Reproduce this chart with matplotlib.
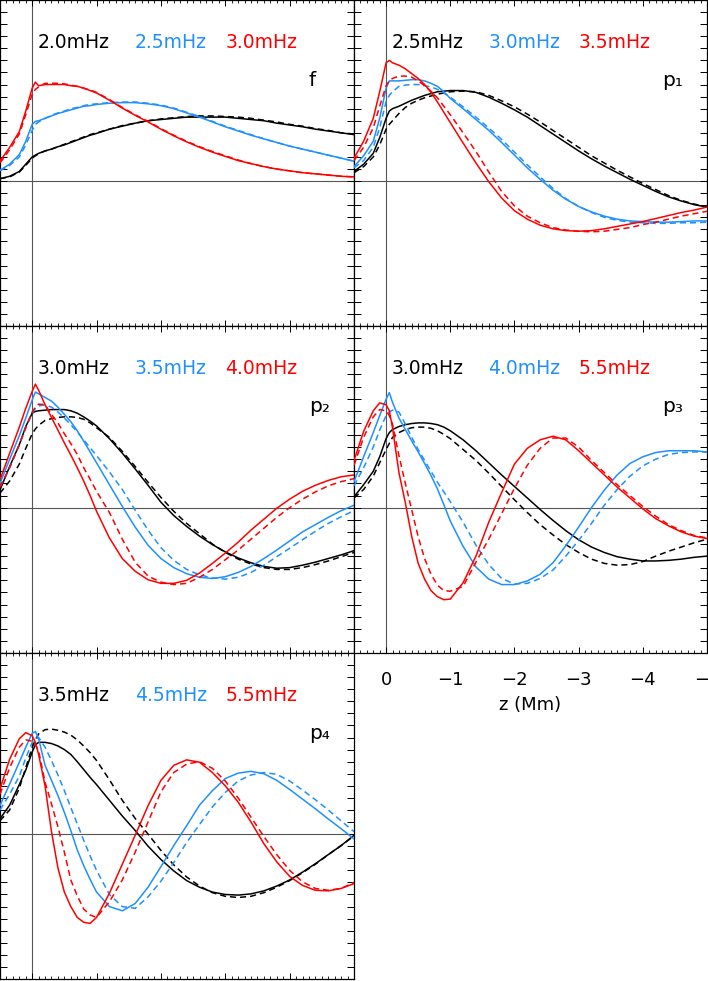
import matplotlib
matplotlib.use("Agg")
import matplotlib.pyplot as plt
from matplotlib.ticker import MultipleLocator

plt.rcParams['font.family'] = ['DejaVu Sans']

# depth grid (Mm), shared by all curves
z = [0.5, 0.35, 0.2, 0.1, 0.0, -0.05, -0.1, -0.2,
     -0.3, -0.4, -0.5, -0.6, -0.7, -0.8, -0.9, -1.0,
     -1.2, -1.4, -1.6, -1.8, -2.0, -2.2, -2.4, -2.6,
     -2.8, -3.0, -3.2, -3.4, -3.6, -3.8, -4.0, -4.2,
     -4.4, -4.6, -4.8, -5.0]

# ---- f mode  (k = black, b = blue, r = red; s = solid, d = dashed)
f_k_s = [0.02, 0.04, 0.08, 0.14, 0.20, 0.215, 0.23, 0.25,
         0.265, 0.285, 0.30, 0.32, 0.34, 0.36, 0.38, 0.395,
         0.43, 0.455, 0.48, 0.50, 0.51, 0.52, 0.53, 0.53,
         0.53, 0.53, 0.52, 0.51, 0.50, 0.48, 0.465, 0.45,
         0.43, 0.415, 0.40, 0.385]
f_k_d = [0.02, 0.035, 0.075, 0.13, 0.19, 0.21, 0.225, 0.25,
         0.265, 0.285, 0.305, 0.325, 0.345, 0.365, 0.385, 0.40,
         0.43, 0.46, 0.48, 0.50, 0.515, 0.525, 0.535, 0.54,
         0.54, 0.535, 0.53, 0.52, 0.505, 0.49, 0.47, 0.455,
         0.435, 0.42, 0.40, 0.39]
f_b_s = [0.09, 0.14, 0.22, 0.33, 0.47, 0.495, 0.50, 0.52,
         0.54, 0.56, 0.575, 0.59, 0.605, 0.62, 0.625, 0.635,
         0.645, 0.65, 0.65, 0.64, 0.625, 0.60, 0.565, 0.53,
         0.49, 0.45, 0.415, 0.38, 0.35, 0.32, 0.29, 0.265,
         0.24, 0.215, 0.19, 0.165]
f_b_d = [0.085, 0.13, 0.20, 0.30, 0.42, 0.47, 0.49, 0.52,
         0.545, 0.565, 0.58, 0.60, 0.61, 0.625, 0.635, 0.64,
         0.65, 0.655, 0.655, 0.645, 0.63, 0.605, 0.57, 0.535,
         0.495, 0.455, 0.42, 0.385, 0.35, 0.32, 0.29, 0.265,
         0.24, 0.215, 0.19, 0.165]
f_r_s = [0.165, 0.28, 0.41, 0.58, 0.77, 0.82, 0.79, 0.80,
         0.80, 0.80, 0.80, 0.79, 0.785, 0.77, 0.75, 0.73,
         0.67, 0.605, 0.545, 0.49, 0.43, 0.375, 0.325, 0.28,
         0.24, 0.205, 0.17, 0.145, 0.12, 0.10, 0.085, 0.07,
         0.06, 0.05, 0.04, 0.035]
f_r_d = [0.15, 0.26, 0.39, 0.55, 0.72, 0.76, 0.78, 0.81,
         0.81, 0.81, 0.805, 0.795, 0.785, 0.77, 0.755, 0.735,
         0.675, 0.61, 0.55, 0.495, 0.435, 0.38, 0.33, 0.285,
         0.245, 0.21, 0.175, 0.145, 0.12, 0.10, 0.085, 0.07,
         0.06, 0.05, 0.04, 0.035]

# ---- p1
p1_k_s = [0.08, 0.14, 0.23, 0.36, 0.52, 0.58, 0.60, 0.62,
          0.645, 0.67, 0.69, 0.71, 0.725, 0.74, 0.745, 0.75,
          0.75, 0.735, 0.695, 0.645, 0.59, 0.53, 0.46, 0.39,
          0.32, 0.25, 0.185, 0.125, 0.07, 0.015, -0.035, -0.085,
          -0.13, -0.165, -0.195, -0.215]
p1_k_d = [0.07, 0.12, 0.20, 0.30, 0.43, 0.47, 0.50, 0.56,
          0.61, 0.645, 0.67, 0.69, 0.705, 0.72, 0.73, 0.74,
          0.745, 0.74, 0.71, 0.665, 0.615, 0.555, 0.49, 0.42,
          0.35, 0.28, 0.21, 0.15, 0.09, 0.035, -0.02, -0.07,
          -0.12, -0.16, -0.19, -0.215]
p1_b_s = [0.12, 0.21, 0.33, 0.52, 0.77, 0.83, 0.83, 0.83,
          0.835, 0.84, 0.84, 0.83, 0.81, 0.785, 0.74, 0.685,
          0.60, 0.51, 0.42, 0.32, 0.215, 0.11, 0.015, -0.075,
          -0.15, -0.21, -0.255, -0.29, -0.315, -0.33, -0.335, -0.34,
          -0.34, -0.335, -0.33, -0.33]
p1_b_d = [0.11, 0.17, 0.28, 0.44, 0.66, 0.71, 0.74, 0.785,
          0.795, 0.80, 0.80, 0.79, 0.78, 0.76, 0.73, 0.695,
          0.615, 0.53, 0.44, 0.345, 0.24, 0.135, 0.035, -0.06,
          -0.145, -0.21, -0.26, -0.30, -0.325, -0.34, -0.345, -0.35,
          -0.35, -0.345, -0.345, -0.34]
p1_r_s = [0.19, 0.33, 0.52, 0.74, 0.98, 1.0, 0.98, 0.96,
          0.93, 0.89, 0.85, 0.80, 0.735, 0.655, 0.57, 0.485,
          0.315, 0.15, -0.005, -0.14, -0.245, -0.315, -0.365, -0.395,
          -0.41, -0.415, -0.41, -0.395, -0.375, -0.355, -0.335, -0.31,
          -0.285, -0.26, -0.24, -0.215]
p1_r_d = [0.17, 0.28, 0.44, 0.62, 0.79, 0.83, 0.85, 0.87,
          0.87, 0.86, 0.83, 0.79, 0.745, 0.69, 0.62, 0.55,
          0.40, 0.245, 0.075, -0.085, -0.205, -0.29, -0.345, -0.385,
          -0.405, -0.415, -0.42, -0.415, -0.40, -0.385, -0.36, -0.34,
          -0.315, -0.29, -0.27, -0.25]

# ---- p2
p2_k_s = [0.146, 0.34, 0.52, 0.67, 0.78, 0.795, 0.80, 0.805,
          0.81, 0.81, 0.81, 0.80, 0.78, 0.75, 0.715, 0.675,
          0.57, 0.45, 0.32, 0.185, 0.045, -0.065, -0.155, -0.235,
          -0.305, -0.365, -0.415, -0.455, -0.485, -0.50, -0.495, -0.475,
          -0.45, -0.42, -0.39, -0.355]
p2_k_d = [0.12, 0.22, 0.36, 0.49, 0.61, 0.65, 0.68, 0.72,
          0.735, 0.745, 0.75, 0.75, 0.745, 0.73, 0.70, 0.66,
          0.58, 0.465, 0.34, 0.21, 0.085, -0.03, -0.13, -0.215,
          -0.30, -0.37, -0.425, -0.465, -0.495, -0.51, -0.51, -0.495,
          -0.47, -0.44, -0.405, -0.37]
p2_b_s = [0.20, 0.40, 0.595, 0.74, 0.89, 0.955, 0.94, 0.91,
          0.88, 0.83, 0.77, 0.71, 0.635, 0.55, 0.46, 0.37,
          0.19, 0.01, -0.16, -0.31, -0.42, -0.495, -0.545, -0.575,
          -0.585, -0.57, -0.535, -0.485, -0.42, -0.35, -0.275, -0.20,
          -0.14, -0.08, -0.025, 0.02]
p2_b_d = [0.17, 0.33, 0.52, 0.66, 0.78, 0.82, 0.84, 0.85,
          0.83, 0.79, 0.74, 0.685, 0.625, 0.56, 0.495, 0.43,
          0.295, 0.15, -0.02, -0.185, -0.33, -0.435, -0.51, -0.555,
          -0.58, -0.59, -0.575, -0.535, -0.475, -0.405, -0.335, -0.265,
          -0.195, -0.13, -0.075, -0.025]
p2_r_s = [0.23, 0.45, 0.665, 0.82, 0.96, 1.02, 0.97, 0.85,
          0.745, 0.64, 0.535, 0.435, 0.33, 0.22, 0.10, -0.03,
          -0.25, -0.42, -0.525, -0.595, -0.625, -0.625, -0.60, -0.54,
          -0.46, -0.375, -0.285, -0.185, -0.095, -0.005, 0.07, 0.135,
          0.185, 0.225, 0.255, 0.27]
p2_r_d = [0.17, 0.33, 0.52, 0.66, 0.79, 0.83, 0.855, 0.85,
          0.77, 0.70, 0.61, 0.53, 0.44, 0.33, 0.235, 0.135,
          -0.04, -0.26, -0.45, -0.565, -0.615, -0.635, -0.625, -0.575,
          -0.51, -0.43, -0.35, -0.26, -0.17, -0.08, 0.0, 0.07,
          0.13, 0.18, 0.215, 0.24]

# ---- p3
p3_k_s = [0.09, 0.19, 0.30, 0.42, 0.57, 0.62, 0.645, 0.67,
          0.685, 0.695, 0.70, 0.70, 0.695, 0.685, 0.665, 0.635,
          0.56, 0.47, 0.37, 0.27, 0.175, 0.08, -0.015, -0.105,
          -0.19, -0.265, -0.325, -0.37, -0.405, -0.425, -0.44, -0.44,
          -0.435, -0.425, -0.41, -0.40]
p3_k_d = [0.08, 0.15, 0.26, 0.37, 0.48, 0.53, 0.58, 0.62,
          0.645, 0.66, 0.665, 0.665, 0.655, 0.635, 0.605, 0.57,
          0.48, 0.39, 0.285, 0.175, 0.065, -0.04, -0.14, -0.225,
          -0.305, -0.37, -0.425, -0.46, -0.475, -0.47, -0.445, -0.40,
          -0.36, -0.325, -0.29, -0.26]
p3_b_s = [0.215, 0.42, 0.62, 0.76, 0.895, 0.95, 0.87, 0.74,
          0.645, 0.55, 0.46, 0.365, 0.265, 0.155, 0.025, -0.11,
          -0.32, -0.49, -0.59, -0.635, -0.635, -0.605, -0.55, -0.455,
          -0.315, -0.16, 0.0, 0.145, 0.27, 0.365, 0.42, 0.455,
          0.47, 0.47, 0.47, 0.46]
p3_b_d = [0.18, 0.33, 0.50, 0.64, 0.76, 0.79, 0.805, 0.79,
          0.69, 0.58, 0.48, 0.39, 0.30, 0.21, 0.13, 0.05,
          -0.12, -0.31, -0.47, -0.585, -0.63, -0.625, -0.585, -0.515,
          -0.40, -0.27, -0.13, 0.02, 0.15, 0.26, 0.345, 0.40,
          0.44, 0.455, 0.46, 0.46]
p3_r_s = [0.39, 0.63, 0.80, 0.865, 0.85, 0.80, 0.66, 0.29,
          0.04, -0.24, -0.46, -0.59, -0.685, -0.735, -0.76, -0.755,
          -0.62, -0.40, -0.12, 0.125, 0.36, 0.49, 0.56, 0.59,
          0.56, 0.47, 0.37, 0.27, 0.17, 0.08, -0.01, -0.09,
          -0.15, -0.20, -0.235, -0.255]
p3_r_d = [0.35, 0.58, 0.75, 0.81, 0.80, 0.76, 0.69, 0.43,
          0.20, -0.02, -0.24, -0.42, -0.55, -0.64, -0.685, -0.69,
          -0.65, -0.45, -0.26, -0.05, 0.16, 0.35, 0.49, 0.575,
          0.575, 0.50, 0.39, 0.29, 0.19, 0.10, 0.01, -0.07,
          -0.14, -0.19, -0.23, -0.25]

# ---- p4
p4_k_s = [0.127, 0.24, 0.41, 0.53, 0.68, 0.74, 0.76, 0.76,
          0.75, 0.73, 0.70, 0.66, 0.60, 0.535, 0.47, 0.41,
          0.28, 0.15, 0.03, -0.10, -0.21, -0.305, -0.385, -0.44,
          -0.48, -0.50, -0.505, -0.495, -0.47, -0.43, -0.38, -0.315,
          -0.245, -0.17, -0.095, -0.01]
p4_k_d = [0.11, 0.20, 0.38, 0.55, 0.72, 0.78, 0.83, 0.865,
          0.87, 0.86, 0.845, 0.82, 0.78, 0.73, 0.675, 0.61,
          0.45, 0.28, 0.13, 0.0, -0.135, -0.255, -0.355, -0.43,
          -0.485, -0.515, -0.525, -0.515, -0.485, -0.44, -0.385, -0.32,
          -0.25, -0.17, -0.095, -0.015]
p4_b_s = [0.237, 0.415, 0.595, 0.72, 0.835, 0.85, 0.79, 0.57,
          0.445, 0.32, 0.18, 0.03, -0.13, -0.26, -0.375, -0.48,
          -0.60, -0.635, -0.575, -0.44, -0.27, -0.095, 0.07, 0.24,
          0.36, 0.46, 0.505, 0.52, 0.50, 0.445, 0.37, 0.29,
          0.21, 0.125, 0.045, -0.04]
p4_b_d = [0.20, 0.33, 0.48, 0.63, 0.76, 0.79, 0.80, 0.72,
          0.61, 0.49, 0.36, 0.22, 0.085, -0.05, -0.18, -0.30,
          -0.50, -0.60, -0.615, -0.52, -0.39, -0.235, -0.07, 0.08,
          0.225, 0.345, 0.44, 0.49, 0.51, 0.495, 0.44, 0.365,
          0.285, 0.20, 0.11, 0.02]
p4_r_s = [0.375, 0.62, 0.79, 0.84, 0.815, 0.76, 0.66, 0.40,
          0.02, -0.28, -0.48, -0.60, -0.69, -0.73, -0.74, -0.69,
          -0.49, -0.25, -0.01, 0.235, 0.445, 0.57, 0.615, 0.595,
          0.51, 0.40, 0.265, 0.10, -0.08, -0.23, -0.35, -0.425,
          -0.465, -0.47, -0.45, -0.41]
p4_r_d = [0.33, 0.55, 0.72, 0.78, 0.77, 0.74, 0.69, 0.43,
          0.25, 0.06, -0.15, -0.38, -0.51, -0.62, -0.67, -0.69,
          -0.56, -0.38, -0.15, 0.10, 0.35, 0.51, 0.58, 0.60,
          0.545, 0.44, 0.30, 0.14, -0.02, -0.17, -0.30, -0.395,
          -0.45, -0.465, -0.45, -0.40]

mode_names = ['f', 'p₁', 'p₂', 'p₃', 'p₄']
freq_labels = [['2.0mHz', '2.5mHz', '3.0mHz'],
               ['2.5mHz', '3.0mHz', '3.5mHz'],
               ['3.0mHz', '3.5mHz', '4.0mHz'],
               ['3.0mHz', '4.0mHz', '5.5mHz'],
               ['3.5mHz', '4.5mHz', '5.5mHz']]
solid = [[f_k_s, f_b_s, f_r_s], [p1_k_s, p1_b_s, p1_r_s], [p2_k_s, p2_b_s, p2_r_s],
         [p3_k_s, p3_b_s, p3_r_s], [p4_k_s, p4_b_s, p4_r_s]]
dashed = [[f_k_d, f_b_d, f_r_d], [p1_k_d, p1_b_d, p1_r_d], [p2_k_d, p2_b_d, p2_r_d],
          [p3_k_d, p3_b_d, p3_r_d], [p4_k_d, p4_b_d, p4_r_d]]

colors = ['black', '#1E90FF', '#FF0000']

W, H = 708, 981
fig = plt.figure(figsize=(W / 100, H / 100), dpi=100)

# panel rectangles in pixels: (left, top, width, height)
rects = [(0, 0, 354, 326), (354, 0, 353, 326),
         (0, 326, 354, 327), (354, 326, 353, 327),
         (0, 653, 354, 326)]

for i, (px, py, pw, ph) in enumerate(rects):
    ax = fig.add_axes([px / W, (H - py - ph) / H, pw / W, ph / H])
    ax.set_xlim(0.5, -5.0)
    ax.set_ylim(-1.2, 1.5)
    ax.axhline(0, color='#555555', lw=0.8, zorder=1)
    ax.axvline(0, color='#555555', lw=0.8, zorder=1)
    for c, ys, yd in zip(colors, solid[i], dashed[i]):
        ax.plot(z, ys, color=c, lw=1.1, zorder=3)
        ax.plot(z, yd, color=c, lw=1.1, dashes=(4, 2.6), zorder=3)

    ax.xaxis.set_major_locator(MultipleLocator(1))
    ax.xaxis.set_minor_locator(MultipleLocator(0.1))
    ax.yaxis.set_major_locator(MultipleLocator(0.1))
    ax.tick_params(which='both', direction='in', top=True, right=True,
                   labelleft=False, labelbottom=False)
    ax.tick_params(axis='x', which='major', length=4.3, width=0.7)
    ax.tick_params(axis='x', which='minor', length=2.5, width=0.6)
    ax.tick_params(axis='y', which='major', length=5, width=0.7)
    for s in ax.spines.values():
        s.set_linewidth(0.9)

    xs = [0.107, 0.381, 0.636]
    for lab, c, x in zip(freq_labels[i], colors, xs):
        ax.text(x, 1 - 48 / ph, lab, color=c, fontsize=13.5,
                transform=ax.transAxes, va='baseline', ha='left')
    ax.text(0.872, 1 - 86 / ph, mode_names[i], fontsize=14.5,
            transform=ax.transAxes, va='baseline', ha='left')

    if i == 3:
        ax.tick_params(axis='x', which='major', labelbottom=True,
                       labelsize=13, pad=13)
        ax.set_xticks([0, -1, -2, -3, -4, -5])
        ax.set_xlabel('z (Mm)', fontsize=13, labelpad=5)

fig.savefig('out.png', dpi=100)
